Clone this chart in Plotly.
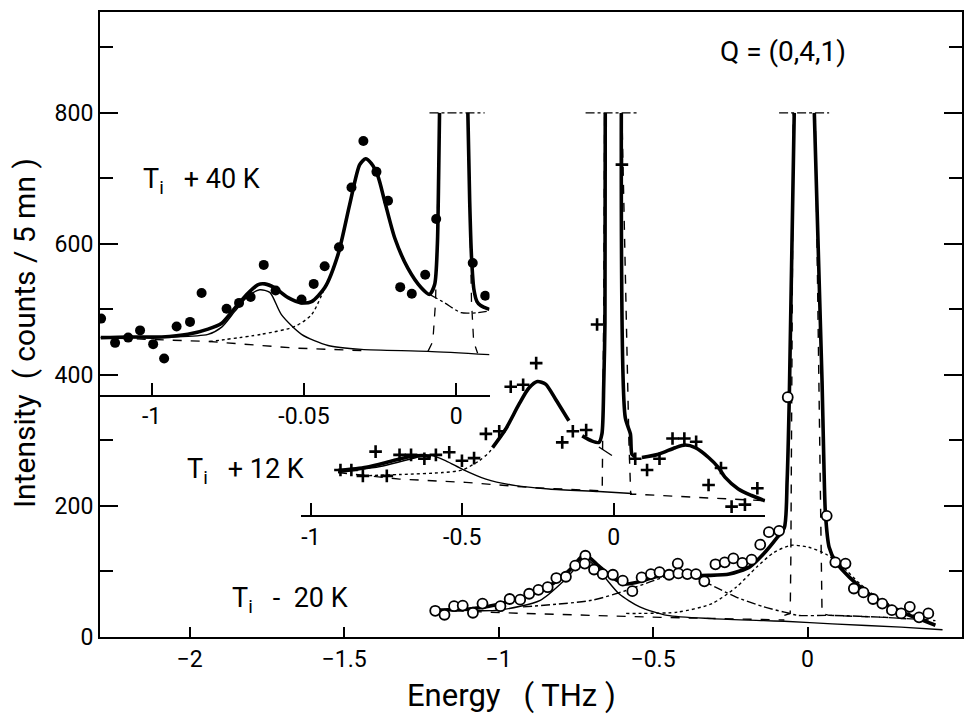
import plotly.graph_objects as go

# ---------------- T_i + 40 K  (inset energy axis x2) ----------------
e40 = [-1.166, -1.120, -1.077, -1.038, -0.995, -0.959, -0.918, -0.874, -0.836, -0.754, -0.713, -0.675,
       -0.632, -0.593, -0.508, -0.468, -0.432, -0.385, -0.344, -0.305, -0.262, -0.224, -0.184, -0.146,
       -0.102, -0.066, 0.054, 0.095]
i40 = [486, 449, 457, 468, 447, 425, 474, 481, 525, 501, 510, 519,
       568, 529, 515, 539, 566, 595, 686, 757, 710, 666, 534, 524,
       553, 638, 571, 521]
fit40_e = [-1.167, -1.077, -0.967, -0.881, -0.815, -0.770, -0.727, -0.683, -0.650, -0.629, -0.596, -0.552,
           -0.508, -0.475, -0.432, -0.388, -0.350, -0.317, -0.298, -0.279, -0.257, -0.235, -0.202, -0.159,
           -0.115, -0.088, -0.071, -0.062, -0.058, -0.055, None, 0.038, 0.044, 0.050, 0.058, 0.068, 0.080, 0.109]
fit40_i = [457, 458, 458, 462, 470, 479, 502, 525, 538, 539, 533, 518,
           510, 512, 533, 584, 660, 721, 730, 723, 703, 665, 609, 563,
           533, 523, 538, 600, 700, 800, None, 800, 665, 580, 530, 512, 506, 500]
low40_e = [-1.167, -0.815, -0.770, -0.727, -0.684, -0.645, -0.612, -0.574, -0.508, -0.421, -0.311, -0.093, 0.109]
low40_i = [457, 462, 473, 497, 520, 530, 526, 492, 462, 445, 439, 436, 431]
base40_e = [-1.167, -0.81, -0.53, -0.30]
base40_i = [457, 451, 441, 437]
mode40_e = [-0.81, -0.64, -0.53, -0.475, -0.432]
mode40_i = [451, 462, 474, 492, 533]
tail40_e = [-0.088, -0.038, 0.016, 0.070, 0.100]
tail40_i = [523, 510, 495, 495, 497]
res40_e = [-0.093, -0.077, -0.068, -0.061, -0.055, None, 0.038, 0.044, 0.050, 0.057, 0.070]
res40_i = [436, 451, 512, 665, 800, None, 800, 665, 512, 451, 433]
cap40_e = [-0.088, 0.093]
cap40_i = [800, 800]

# ---------------- T_i + 12 K  (inset energy axis x3) ----------------
e12 = [-0.902, -0.866, -0.828, -0.786, -0.749, -0.707, -0.669, -0.625, -0.587, -0.543, -0.501, -0.461,
       -0.422, -0.378, -0.340, -0.299, -0.256, -0.170, -0.135, -0.091, -0.055, 0.027, 0.071, 0.110,
       0.151, 0.194, 0.233, 0.272, 0.313, 0.354, 0.389, 0.433, 0.474]
i12 = [255, 255, 246, 283, 246, 278, 278, 272, 278, 282, 269, 273,
       310, 314, 382, 385, 418, 297, 314, 316, 477, 721, 272, 255,
       272, 303, 303, 298, 232, 258, 199, 202, 227]
fit12_e = [-0.910, -0.817, -0.729, -0.674, -0.631, -0.603, None,
           -0.400, -0.357, -0.313, -0.280, -0.252, -0.225, -0.192, -0.148, None,
           -0.104, -0.071, -0.049, -0.039, -0.033, -0.029, -0.028, None,
           0.025, 0.038, 0.055, 0.060, 0.071, None,
           0.093, 0.148, 0.203, 0.236, 0.269, 0.313, 0.345, 0.367, 0.411, 0.455, 0.499]
fit12_i = [254, 259, 269, 275, 277, 275, None,
           289, 317, 355, 380, 390, 386, 363, 330, None,
           307, 299, 297, 310, 386, 480, 800, None,
           800, 335, 310, 279, 275, None,
           274, 279, 289, 293, 289, 274, 259, 244, 226, 216, 208]
low12_e = [-0.910, -0.762, -0.652, -0.609, -0.554, -0.499, -0.422, -0.323, -0.214, -0.049, 0.060]
low12_i = [251, 261, 274, 278, 269, 256, 241, 231, 226, 222, 219]
base12_e = [-0.910, -0.707, -0.488, -0.269, -0.038, -0.036, -0.033, -0.030, None,
            0.027, 0.040, 0.050, 0.056, 0.071, 0.280, 0.499]
base12_i = [251, 241, 236, 228, 223, 300, 500, 800, None,
            800, 500, 300, 218, 218, 213, 208]
mode12_e = [-0.828, -0.707, -0.565, -0.499, -0.444, -0.411, -0.400]
mode12_i = [246, 248, 251, 255, 269, 282, 289]
tail12_e = [-0.049, -0.006]
tail12_i = [290, 277]
cap12_e = [-0.093, 0.082]
cap12_i = [800, 800]

# ---------------- T_i - 20 K  (main energy axis) ----------------
e20 = [-1.205, -1.175, -1.144, -1.116, -1.083, -1.052, -0.994, -0.964, -0.930, -0.901, -0.871, -0.841,
       -0.813, -0.782, -0.752, -0.719, -0.721, -0.691, -0.663, -0.630, -0.598, -0.567, -0.537, -0.507,
       -0.479, -0.448, -0.420, -0.418, -0.389, -0.361, -0.334, -0.298, -0.268, -0.240, -0.211, -0.181,
       -0.153, -0.125, -0.092, -0.064, 0.062, 0.090, 0.123, 0.150, 0.181, 0.212, 0.242, 0.273,
       0.303, 0.331, 0.361, 0.391]
i20 = [40, 34, 47, 48, 37, 51, 47, 58, 57, 66, 72, 76,
       90, 92, 109, 124, 112, 103, 96, 95, 86, 70, 91, 96,
       99, 95, 112, 97, 96, 96, 85, 111, 114, 120, 113, 118,
       141, 160, 162, 366, 185, 114, 112, 74, 68, 58, 51, 41,
       36, 46, 30, 36]
fit20_e = [-1.205, -1.088, -0.999, -0.921, -0.865, -0.810, -0.766, -0.732, -0.715, -0.677, -0.632, -0.587,
           -0.532, -0.476, -0.420, -0.365, -0.320, -0.253, -0.187, -0.142, -0.098, -0.075, -0.066, -0.059,
           -0.043, None, 0.022, 0.047, 0.053, 0.058, 0.070, 0.092, 0.136, 0.192, 0.248, 0.303, 0.359, 0.414]
fit20_i = [41, 43, 50, 61, 71, 86, 104, 122, 124, 109, 91, 81,
           86, 94, 96, 94, 94, 96, 107, 127, 152, 167, 239, 365,
           800, None, 800, 391, 264, 188, 137, 114, 91, 68, 51, 38, 28, 18]
low20_e = [-1.144, -0.999, -0.865, -0.788, -0.732, -0.710, -0.665, -0.610, -0.543, -0.454, -0.309, -0.142,
           -0.075, 0.080, 0.303, 0.437]
low20_i = [41, 41, 56, 86, 114, 117, 96, 66, 46, 33, 28, 25, 24, 20, 15, 11]
base20_e = [-1.200, -0.921, -0.476, -0.075]
base20_i = [41, 36, 30, 26]
res20_e = [-0.075, -0.056, -0.054, -0.050, -0.046, None, 0.025, 0.036, 0.043, 0.047, 0.070, 0.250, 0.414]
res20_i = [33, 36, 120, 400, 800, None, 800, 400, 120, 36, 33, 30, 25]
mode20_e = [-0.921, -0.699, -0.587, -0.498, -0.432, -0.365, -0.298, -0.231, -0.142, -0.075, -0.031, 0.080,
            0.248, 0.392]
mode20_i = [46, 56, 71, 86, 96, 91, 76, 61, 46, 38, 33, 33, 30, 26]
qe20_e = [-0.587, -0.420, -0.309, -0.231, -0.164, -0.109, -0.053, 0.003, 0.058, 0.114, 0.170, 0.225,
          0.303, 0.392]
qe20_i = [36, 38, 51, 76, 107, 129, 140, 137, 127, 107, 81, 61, 41, 25]
cap20_e = [-0.092, 0.070]
cap20_i = [800, 800]

# ticks
main_xticks = [-2, -1.5, -1, -0.5, 0, 0.5]
y_ticks = [0, 200, 400, 600, 800]
in40_ticks = [-1, -0.5, 0]
in40_text = ["-1", "-0.05", "0"]
in12_ticks = [-1, -0.5, 0, 0.5]
in12_text = ["-1", "-0.5", "0", ""]

FONT = "Roboto"
fig = go.Figure()


def line(x, y, xa, width=1.4, dash="solid", shape="spline", smooth=0.7):
    ln = dict(color="black", width=width, dash=dash, shape=shape)
    if shape == "spline":
        ln["smoothing"] = smooth
    fig.add_trace(go.Scatter(x=x, y=y, xaxis=xa, yaxis="y", mode="lines", line=ln,
                             connectgaps=False, showlegend=False, hoverinfo="skip"))


# 40 K curves
line(base40_e, base40_i, "x2", 1.4, "dash", "linear")
line(low40_e, low40_i, "x2", 1.4)
line(mode40_e, mode40_i, "x2", 1.4, "dot")
line(tail40_e, tail40_i, "x2", 1.3, "dashdot")
line(res40_e, res40_i, "x2", 1.3, "dash", "linear")
line(cap40_e, cap40_i, "x2", 1.3, "dashdot", "linear")
line(fit40_e, fit40_i, "x2", 3.6)
# 12 K curves
line(base12_e, base12_i, "x3", 1.4, "dash", "linear")
line(low12_e, low12_i, "x3", 1.4)
line(mode12_e, mode12_i, "x3", 1.4, "dot")
line(tail12_e, tail12_i, "x3", 1.4, "solid", "linear")
line(cap12_e, cap12_i, "x3", 1.3, "dashdot", "linear")
line(fit12_e, fit12_i, "x3", 3.6)
# 20 K curves
line(base20_e, base20_i, "x", 1.4, "dash", "linear")
line(res20_e, res20_i, "x", 1.4, "dash", "linear")
line(low20_e, low20_i, "x", 1.4)
line(mode20_e, mode20_i, "x", 1.4, "dashdot")
line(qe20_e, qe20_i, "x", 1.4, "dot")
line(cap20_e, cap20_i, "x", 1.3, "dashdot", "linear")
line(fit20_e, fit20_i, "x", 3.6)

# data points
fig.add_trace(go.Scatter(x=e40, y=i40, xaxis="x2", yaxis="y", mode="markers",
                         marker=dict(symbol="circle", size=10, color="black"),
                         showlegend=False, hoverinfo="skip"))
fig.add_trace(go.Scatter(x=e12, y=i12, xaxis="x3", yaxis="y", mode="markers",
                         marker=dict(symbol="cross-thin", size=9, color="black",
                                     line=dict(width=2.6, color="black")),
                         showlegend=False, hoverinfo="skip"))
fig.add_trace(go.Scatter(x=e20, y=i20, xaxis="x", yaxis="y", mode="markers",
                         marker=dict(symbol="circle", size=10, color="white",
                                     line=dict(width=1.8, color="black")),
                         showlegend=False, hoverinfo="skip"))

tickfont = dict(family=FONT, size=23, color="black")
L, R, T, B = 100, 11, 10, 80
W, H = 974, 717
pw, ph = W - L - R, H - T - B


def px_x(p):
    return (p - L) / pw


def px_y(p):
    return (H - B - p) / ph


fig.update_layout(
    width=W, height=H, margin=dict(l=L, r=R, t=T, b=B),
    paper_bgcolor="white", plot_bgcolor="rgba(0,0,0,0)",
    xaxis=dict(range=[-2.29, 0.5], domain=[0, 1], tickvals=main_xticks, ticks="inside", ticklen=10,
               tickwidth=2, showline=True, linewidth=2, linecolor="black", mirror=True,
               showgrid=False, zeroline=False, tickfont=tickfont, tickcolor="black"),
    yaxis=dict(range=[0, 954], domain=[0, 1], tickvals=y_ticks, ticks="inside", ticklen=18,
               tickwidth=2, showline=True, linewidth=2, linecolor="black", mirror="ticks",
               showgrid=False, zeroline=False, tickfont=tickfont, tickcolor="black",
               minor=dict(dtick=100, ticks="inside", ticklen=13, tickwidth=2, tickcolor="black", showgrid=False)),
    xaxis2=dict(range=[-1.1695, 0.1092], domain=[0, px_x(490)], anchor="free", position=px_y(395),
                tickvals=in40_ticks, ticktext=in40_text, ticks="inside", ticklen=12, tickwidth=2,
                showline=True, linewidth=2, linecolor="black", showgrid=False, zeroline=False,
                tickfont=tickfont, tickcolor="black"),
    xaxis3=dict(range=[-1.033, 0.5], domain=[px_x(301), px_x(766)], anchor="free", position=px_y(515.7),
                tickvals=in12_ticks, ticktext=in12_text, ticks="inside", ticklen=12, tickwidth=2,
                showline=True, linewidth=2, linecolor="black", showgrid=False, zeroline=False,
                tickfont=tickfont, tickcolor="black"),
)

NB = "\u00a0"
ann = [
    dict(text="Q" + NB + "=" + NB + "(0,4,1)", x=px_x(784), y=px_y(50), xanchor="center", yanchor="middle", size=28),
    dict(text="T<sub>i</sub>" + NB * 3 + "+" + NB + "40" + NB + "K", x=px_x(141), y=px_y(180), xanchor="left", yanchor="middle", size=27),
    dict(text="T<sub>i</sub>" + NB * 3 + "+" + NB + "12" + NB + "K", x=px_x(185), y=px_y(470), xanchor="left", yanchor="middle", size=27),
    dict(text="T<sub>i</sub>" + NB * 3 + "-" + NB * 2 + "20" + NB + "K", x=px_x(230), y=px_y(600), xanchor="left", yanchor="middle", size=27),
    dict(text="Energy" + NB * 3 + "( THz )", x=px_x(512), y=px_y(696), xanchor="center", yanchor="middle", size=31),
]
for a in ann:
    fig.add_annotation(text=a["text"], x=a["x"], y=a["y"], xref="paper", yref="paper",
                       xanchor=a["xanchor"], yanchor=a["yanchor"], showarrow=False,
                       font=dict(family=FONT, size=a["size"], color="black"))
fig.add_annotation(text="Intensity" + NB * 2 + "( counts / 5 mn )", x=px_x(25), y=px_y(332),
                   xref="paper", yref="paper", textangle=-90, showarrow=False,
                   xanchor="center", yanchor="middle", font=dict(family=FONT, size=30, color="black"))

fig.write_html("out.html")
